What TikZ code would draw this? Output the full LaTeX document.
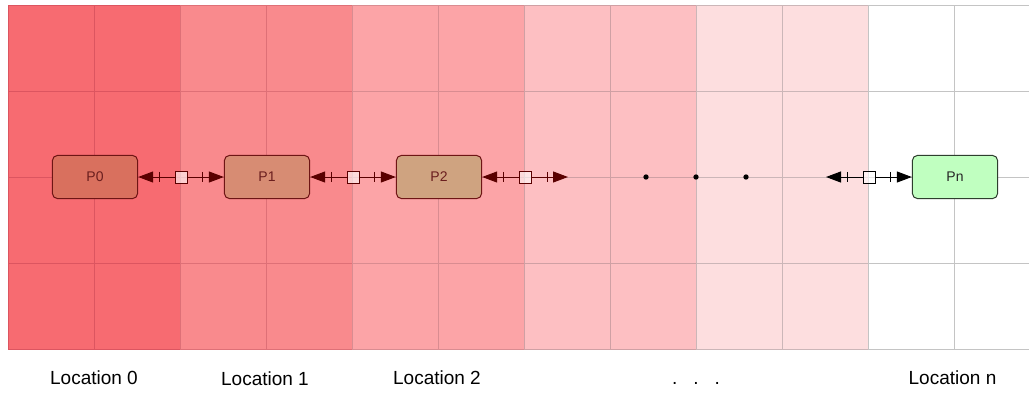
\documentclass[tikz,border=0pt]{standalone}
\usepackage{fontspec}
\setmainfont{Liberation Sans}
\usetikzlibrary{arrows.meta,calc}
\definecolor{bgA}{HTML}{F76B71}
\definecolor{bgB}{HTML}{F98A8D}
\definecolor{bgC}{HTML}{FCA4A7}
\definecolor{bgD}{HTML}{FDBFC2}
\definecolor{bgE}{HTML}{FDDEDF}
\definecolor{bgF}{HTML}{FFFFFF}
\definecolor{lnA}{HTML}{DC5560}
\definecolor{lnB}{HTML}{DE7077}
\definecolor{lnC}{HTML}{D98C91}
\definecolor{lnD}{HTML}{CFA0A4}
\definecolor{lnE}{HTML}{CBB6B8}
\definecolor{lnF}{HTML}{C4C4C4}
\definecolor{fillP0}{HTML}{D9705E}
\definecolor{fillP1}{HTML}{D78C73}
\definecolor{fillP2}{HTML}{CFA380}
\definecolor{fillPn}{HTML}{C0FFC0}
\definecolor{redline}{HTML}{6E1515}
\definecolor{redtext}{HTML}{6A1E1E}
\definecolor{conred}{HTML}{5A0000}
\definecolor{greenline}{HTML}{2E3E2E}
\tikzset{
  pbox/.style={rectangle, rounded corners=4pt, draw=redline, line width=0.75pt,
    minimum width=64pt, minimum height=32.5pt, inner sep=0pt, text=redtext,
    font=\fontsize{10.5}{12}\selectfont},
  sq/.style={rectangle, draw, line width=0.75pt, minimum size=9pt, inner sep=0pt,
    fill=white, fill opacity=0.6},
  conn/.style={line width=0.75pt, -{Triangle[length=11.25pt,width=8.25pt]}},
  barline/.style={line width=0.75pt},
  dot/.style={circle, fill=black, inner sep=0pt, minimum size=4pt},
  loc/.style={anchor=base, inner sep=0pt, font=\fontsize{14.25}{17}\selectfont}
}
\begin{document}
\begin{tikzpicture}[x=0.75pt,y=-0.75pt]
\useasboundingbox (0,0) rectangle (1029,397);
\begin{scope}
\clip (0,0) rectangle (1029,397);
\foreach \i/\f/\l in {0/bgA/lnA,1/bgB/lnB,2/bgC/lnC,3/bgD/lnD,4/bgE/lnE,5/bgF/lnF}{
  \fill[\f] ({8+172*\i},5) rectangle ({180+172*\i},349);
  \draw[\l, line width=0.75pt] ({8+172*\i},5) -- ({8+172*\i},349)
     ({94+172*\i},5) -- ({94+172*\i},349);
  \foreach \y in {5,91,177,263,349}
    \draw[\l, line width=0.75pt] ({8+172*\i},\y) -- ({180+172*\i},\y);
}
\end{scope}

% process nodes
\node[pbox, fill=fillP0] (P0) at (95,177) {P0};
\node[pbox, fill=fillP1] (P1) at (267,177) {P1};
\node[pbox, fill=fillP2] (P2) at (439,177) {P2};
\node[pbox, fill=fillPn, draw=greenline, text=black!85] (Pn) at (955,177) {Pn};

% link squares
\node[sq, draw=conred] (s01) at (181,177) {};
\node[sq, draw=conred] (s12) at (353,177) {};
\node[sq, draw=conred] (s23) at (525,177) {};
\node[sq, draw=black] (sn) at (869,177) {};
\coordinate (e3) at (568,177);
\coordinate (e4) at (826,177);

% connectors
\draw[conn, conred] (s01.west) -- (P0.east);
\draw[conn, conred] (s01.east) -- (P1.west);
\draw[conn, conred] (s12.west) -- (P1.east);
\draw[conn, conred] (s12.east) -- (P2.west);
\draw[conn, conred] (s23.west) -- (P2.east);
\draw[conn, conred] (s23.east) -- (e3);
\draw[conn, black] (sn.west) -- (e4);
\draw[conn, black] (sn.east) -- (Pn.west);

% bars
\foreach \n/\d/\c in {P0.east/21/conred, P1.west/-21/conred, P1.east/21/conred, P2.west/-21/conred,
                      P2.east/21/conred, e3/-21/conred, e4/21/black, Pn.west/-21/black}{
  \draw[barline, \c] ($(\n)+(\d,-5.25)$) -- ($(\n)+(\d,5.25)$);
}

% ellipsis dots
\node[dot] (d1) at (646,177) {};
\node[dot] (d2) at (696,177) {};
\node[dot] (d3) at (746,177) {};

% labels
\node[loc] (L0) at (94,384.5) {Location 0};
\node[loc] (L1) at (265,385.7) {Location 1};
\node[loc] (L2) at (437,384.5) {Location 2};
\node[loc] (Ld) at (696,384.5) {.\hspace{12pt}.\hspace{12pt}.};
\node[loc] (Ln) at (952.5,384.5) {Location n};
\end{tikzpicture}
\end{document}
